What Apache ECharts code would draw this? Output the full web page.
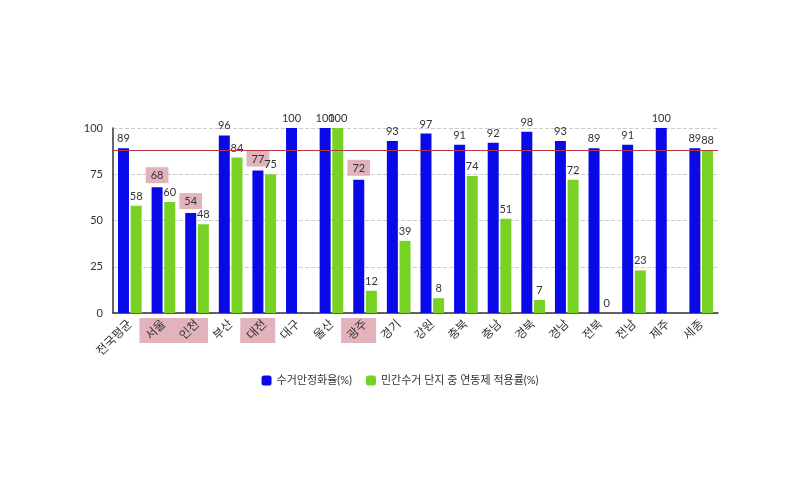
<!DOCTYPE html>
<html>
<head>
<meta charset="utf-8">
<script src="https://cdn.jsdelivr.net/npm/echarts@6/dist/echarts.min.js"></script>
<style>
  html, body { margin: 0; padding: 0; background: #fff; }
  #chart { width: 800px; height: 500px; }
</style>
</head>
<body>
<div id="chart"></div>
<script>
const regions = ['전국평균', '서울', '인천', '부산', '대전', '대구', '울산', '광주', '경기', '강원', '충북', '충남', '경북', '경남', '전북', '전남', '제주', '세종']
const stableRate = [89, 68, 54, 96, 77, 100, 100, 72, 93, 97, 91, 92, 98, 93, 89, 91, 100, 89]
const linkedRate = [58, 60, 48, 84, 75, null, 100, 12, 39, 8, 74, 51, 7, 72, 0, 23, null, 88]
const yTicks = [0, 25, 50, 75, 100]
const avgLine = 88
// 강조 표시된 지역
const highlighted = ['서울', '인천', '대전', '광주']
const legendNames = ['수거안정화율(%)', '민간수거 단지 중 연동제 적용률(%)']

const FONT = 'Lato, "Noto Sans CJK KR", sans-serif'
const PINK = '#e3b3bb'

const chart = echarts.init(document.getElementById('chart'))

const option = {
  animation: false,
  textStyle: { fontFamily: FONT },
  grid: { left: 113, right: 82, top: 128, bottom: 187 },
  legend: {
    data: legendNames,
    top: 370,
    left: 'center',
    itemWidth: 10,
    itemHeight: 10,
    itemGap: 14,
    textStyle: { fontSize: 11, color: '#333', fontFamily: FONT }
  },
  xAxis: {
    type: 'category',
    data: regions,
    axisTick: { show: false },
    axisLine: { lineStyle: { color: '#333', width: 1.5 } },
    axisLabel: {
      rotate: 45,
      interval: 0,
      fontSize: 12,
      color: '#333',
      margin: 9,
      fontFamily: FONT
    }
  },
  yAxis: {
    type: 'value',
    min: yTicks[0],
    max: yTicks[yTicks.length - 1],
    interval: 25,
    axisLine: { show: true, lineStyle: { color: '#333', width: 1.5 } },
    axisTick: { show: false },
    axisLabel: { fontSize: 11, color: '#333', margin: 10 },
    splitLine: { lineStyle: { type: 'dashed', color: '#ccc' } }
  },
  series: [
    {
      name: legendNames[0],
      type: 'bar',
      data: stableRate,
      barWidth: 11,
      barGap: '15%',
      itemStyle: { color: '#0a0ae8' },
      label: {
        show: true,
        position: 'top',
        distance: 4,
        fontSize: 11,
        color: '#333',
        formatter: p => highlighted.includes(p.name) ? '{hl|' + p.value + '}' : String(p.value),
        rich: {
          hl: { backgroundColor: PINK, padding: [3, 5, 2, 5], fontSize: 11, color: '#333' }
        }
      },
      markLine: {
        silent: true,
        symbol: 'none',
        label: { show: false },
        lineStyle: { color: '#b03a48', type: 'solid', width: 1.2 },
        data: [{ yAxis: avgLine }]
      }
    },
    {
      name: legendNames[1],
      type: 'bar',
      data: linkedRate,
      barWidth: 11,
      itemStyle: { color: '#78d223' },
      label: {
        show: true,
        position: 'top',
        distance: 4,
        fontSize: 11,
        color: '#333'
      }
    }
  ]
}

chart.setOption(option)

// x축 라벨 뒤 분홍 박스: 서울~인천 묶음, 대전, 광주
function labelBox(fromName, toName) {
  const x1 = chart.convertToPixel({ xAxisIndex: 0 }, fromName)
  const x2 = chart.convertToPixel({ xAxisIndex: 0 }, toName)
  const y0 = chart.convertToPixel({ yAxisIndex: 0 }, 0)
  return {
    type: 'rect',
    z: -1,
    shape: { x: x1 - 24, y: y0 + 5, width: x2 - x1 + 35, height: 25 },
    style: { fill: PINK }
  }
}

chart.setOption({
  graphic: [labelBox('서울', '인천'), labelBox('대전', '대전'), labelBox('광주', '광주')]
})
</script>
</body>
</html>
